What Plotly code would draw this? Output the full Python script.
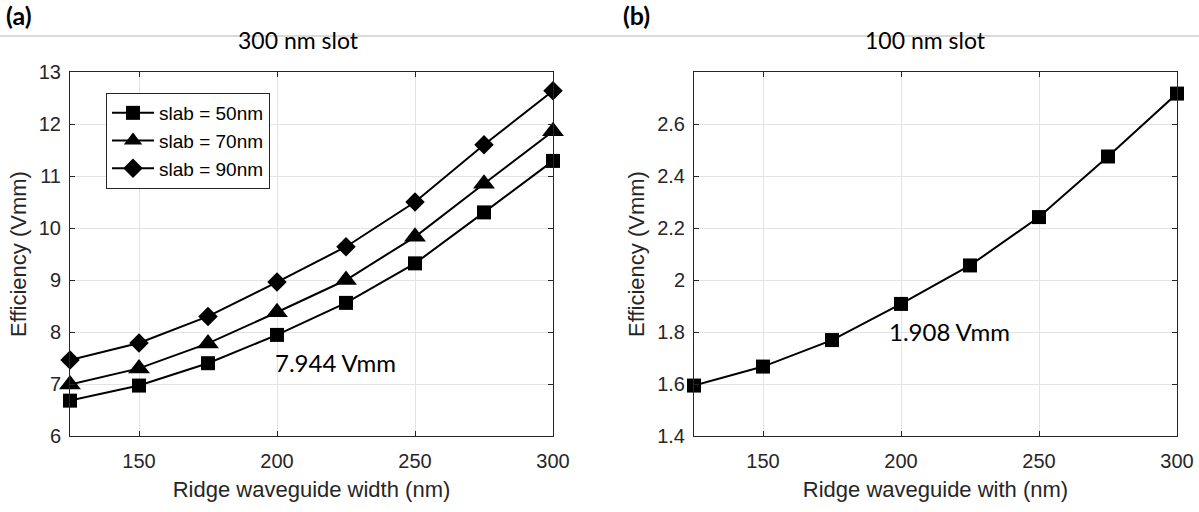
import plotly.graph_objects as go

# Ridge waveguide widths (nm)
widths = [125, 150, 175, 200, 225, 250, 275, 300]

# (a) 300 nm slot: efficiency (V·mm) for three slab thicknesses
slab_50 = [6.68, 6.97, 7.40, 7.944, 8.56, 9.32, 10.30, 11.29]
slab_70 = [6.99, 7.30, 7.78, 8.38, 9.00, 9.83, 10.85, 11.86]
slab_90 = [7.46, 7.79, 8.30, 8.96, 9.64, 10.50, 11.60, 12.64]

# (b) 100 nm slot
slot_100 = [1.594, 1.667, 1.769, 1.908, 2.056, 2.242, 2.475, 2.717]

x_ticks = [150, 200, 250, 300]
a_yticks = [6, 7, 8, 9, 10, 11, 12, 13]
b_yticks = [1.4, 1.6, 1.8, 2.0, 2.2, 2.4, 2.6]
b_yticklabels = ["1.4", "1.6", "1.8", "2", "2.2", "2.4", "2.6"]

W, H = 1199, 512
SANS = "Liberation Sans, Arial, Helvetica"
TICK_FONT = dict(family=SANS, size=20, color="#262626")
TITLE_FONT = dict(family=SANS, size=22, color="#262626")
CAL_FONT = "Lato, Carlito, Noto Sans"
FRAME = "#262626"
GRID = "#e3e3e3"

fig = go.Figure()

series_a = [
    ("slab = 50nm", slab_50, "square", 14),
    ("slab = 70nm", slab_70, "triangle-up", 19),
    ("slab = 90nm", slab_90, "diamond", 15),
]
for name, vals, sym, size in series_a:
    fig.add_trace(go.Scatter(
        x=widths, y=vals, name=name, mode="lines+markers",
        line=dict(color="black", width=2),
        marker=dict(symbol=sym, size=size, color="black"),
        xaxis="x", yaxis="y", cliponaxis=False,
    ))

fig.add_trace(go.Scatter(
    x=widths, y=slot_100, mode="lines+markers", showlegend=False,
    line=dict(color="black", width=2),
    marker=dict(symbol="square", size=14, color="black"),
    xaxis="x2", yaxis="y2", cliponaxis=False,
))


def px(v):
    return v / W


def py(v):
    return 1 - v / H


axis_common = dict(
    showline=True, linecolor=FRAME, linewidth=1, mirror="ticks",
    ticks="inside", ticklen=5, tickcolor=FRAME,
    showgrid=True, gridcolor=GRID, gridwidth=1,
    zeroline=False, tickfont=TICK_FONT, automargin=False,
)
x_common = dict(axis_common, ticklabelstandoff=7)
y_common = dict(axis_common, ticklabelstandoff=4)

fig.update_layout(
    width=W, height=H,
    margin=dict(l=0, r=0, t=0, b=0, autoexpand=False),
    paper_bgcolor="white", plot_bgcolor="white",
    xaxis=dict(domain=[px(70), px(553)], range=[125, 300], tickvals=x_ticks,
               title=dict(text="Ridge waveguide width (nm)", font=TITLE_FONT, standoff=10),
               anchor="y", **x_common),
    yaxis=dict(domain=[py(436), py(72)], range=[6, 13], tickvals=a_yticks,
               title=dict(text="Efficiency (Vmm)", font=TITLE_FONT, standoff=6),
               anchor="x", **y_common),
    xaxis2=dict(domain=[px(694), px(1177)], range=[125, 300], tickvals=x_ticks,
                title=dict(text="Ridge waveguide with (nm)", font=TITLE_FONT, standoff=10),
                anchor="y2", **x_common),
    yaxis2=dict(domain=[py(436), py(72)], range=[1.4, 2.8], tickvals=b_yticks,
                ticktext=b_yticklabels,
                title=dict(text="Efficiency (Vmm)", font=TITLE_FONT, standoff=6),
                anchor="x2", **y_common),
    legend=dict(
        x=px(106), y=py(93), xanchor="left", yanchor="top",
        bgcolor="white", bordercolor=FRAME, borderwidth=1,
        font=dict(family=SANS, size=19, color="black"),
        tracegroupgap=0, itemwidth=42,
    ),
    showlegend=True,
)

# Thin separator rule across the top
fig.add_shape(type="line", xref="paper", yref="paper",
              x0=0, x1=1, y0=py(36), y1=py(36),
              line=dict(color="#b5b5b5", width=1), layer="below")

annots = [
    dict(text="<b>(a)</b>", x=px(4), y=py(15), xanchor="left", size=25),
    dict(text="<b>(b)</b>", x=px(621), y=py(15), xanchor="left", size=25),
    dict(text="300 nm slot", x=px(298), y=py(40), xanchor="center", size=23),
    dict(text="100 nm slot", x=px(925), y=py(40), xanchor="center", size=23),
]
for a in annots:
    fig.add_annotation(text=a["text"], x=a["x"], y=a["y"], xref="paper", yref="paper",
                       xanchor=a["xanchor"], yanchor="middle", showarrow=False,
                       font=dict(family=CAL_FONT, size=a["size"], color="black"),
                       bgcolor="rgba(0,0,0,0)")

# Value callouts at 200 nm
fig.add_annotation(text="7.944 Vmm", x=200, y=slab_50[3], xref="x", yref="y",
                   xanchor="left", yanchor="middle", xshift=-4, yshift=-28,
                   showarrow=False, font=dict(family=CAL_FONT, size=24, color="black"))
fig.add_annotation(text="1.908 Vmm", x=200, y=slot_100[3], xref="x2", yref="y2",
                   xanchor="left", yanchor="middle", xshift=-14, yshift=-28,
                   showarrow=False, font=dict(family=CAL_FONT, size=24, color="black"))

fig.write_html("out.html")
